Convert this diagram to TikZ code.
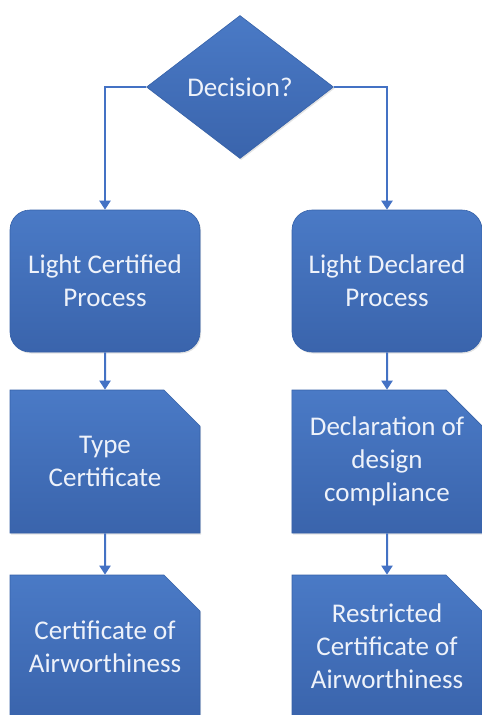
\documentclass[tikz,border=0pt]{standalone}
\usepackage{fontspec}
\setmainfont{Carlito}
\usetikzlibrary{shapes.geometric,shapes.misc,arrows.meta,shadows}
\definecolor{boxtop}{HTML}{4A7AC6}
\definecolor{boxbot}{HTML}{3A64AC}
\definecolor{edgeblue}{HTML}{3561A8}
\definecolor{linkblue}{HTML}{4472C4}
\definecolor{txt}{HTML}{EEF2FA}
\tikzset{
  base/.style={top color=boxtop, bottom color=boxbot, draw=edgeblue, line width=0.6pt,
    text=txt, align=center, inner sep=0pt,
    font=\fontsize{27}{33}\selectfont,
    drop shadow={opacity=0.22, shadow xshift=1.2pt, shadow yshift=-1.5pt}},
  procbox/.style={base, rectangle, rounded corners=20pt, minimum width=190pt, minimum height=142pt},
  docbox/.style={base, chamfered rectangle, chamfered rectangle corners=north east,
    chamfered rectangle xsep=18pt, chamfered rectangle ysep=18pt,
    minimum width=190pt, minimum height=143pt},
  decbox/.style={base, diamond, aspect=1.3, minimum width=187pt, minimum height=143pt},
  link/.style={draw=linkblue, line width=2pt, -{Triangle[width=11pt,length=9pt]}}
}
\begin{document}
\begin{tikzpicture}[x=1pt,y=-1pt]
\useasboundingbox (0,0) rectangle (482,715);
\clip (0,0) rectangle (482,715);
\node[decbox] (dec) at (240,87) {Decision?};
\node[procbox] (lcp) at (105,281) {Light Certified\\Process};
\node[procbox] (ldp) at (387,281) {Light Declared\\Process};
\node[docbox] (tc) at (105,461.5) {Type\\Certificate};
\node[docbox] (ddc) at (387,461.5) {Declaration of\\design\\compliance};
\node[docbox] (coa) at (105,646.5) {Certificate of\\Airworthiness};
\node[docbox] (rcoa) at (387,646.5) {Restricted\\Certificate of\\Airworthiness};
\draw[link] (dec.west) -| (lcp.north);
\draw[link] (dec.east) -| (ldp.north);
\draw[link] (lcp) -- (tc);
\draw[link] (ldp) -- (ddc);
\draw[link] (tc) -- (coa);
\draw[link] (ddc) -- (rcoa);
\end{tikzpicture}
\end{document}
